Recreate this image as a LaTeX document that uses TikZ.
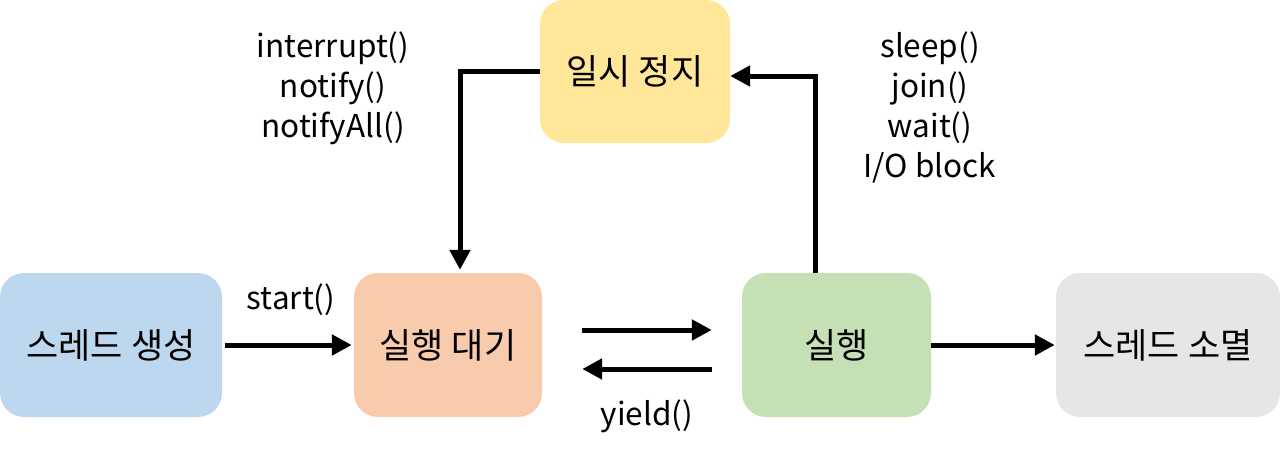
\documentclass[tikz,border=0pt]{standalone}
\usepackage{fontspec}
\setmainfont{Noto Sans CJK KR}
\usetikzlibrary{arrows.meta}
\definecolor{cblue}{HTML}{BDD7EE}
\definecolor{corange}{HTML}{F8CBAD}
\definecolor{cyellow}{HTML}{FFE699}
\definecolor{cgreen}{HTML}{C5E0B4}
\definecolor{cgray}{HTML}{E6E6E6}
\tikzset{
  statebox/.style={draw=none, rounded corners=24pt, minimum height=144pt, inner sep=0pt,
    font=\fontsize{35}{40}\selectfont},
  arr/.style={line width=5pt, -{Triangle[length=20pt,width=20pt]}},
  lbl/.style={align=center, inner sep=0pt, font=\fontsize{31.5}{40}\selectfont}
}
\begin{document}
\begin{tikzpicture}[x=1pt,y=-1pt]
\useasboundingbox (0,0) rectangle (1280,455);
\node[statebox, fill=cblue, minimum width=222pt] (create) at (111,345) {스레드 생성};
\node[statebox, fill=corange, minimum width=188pt] (ready) at (448,345) {실행 대기};
\node[statebox, fill=cyellow, minimum width=190pt, minimum height=143pt] (paused) at (635,71.5) {일시 정지};
\node[statebox, fill=cgreen, minimum width=189pt] (run) at (836.5,345) {실행};
\node[statebox, fill=cgray, minimum width=224pt] (dead) at (1168,345) {스레드 소멸};

\draw[arr, shorten <=3pt, shorten >=2pt] (create.east) -- (ready.west);
\draw[arr, shorten <=40pt, shorten >=30pt] ([yshift=15pt]ready.east) -- ([yshift=15pt]run.west);
\draw[arr, shorten <=30pt, shorten >=40pt] ([yshift=-24pt]run.west) -- ([yshift=-24pt]ready.east);
\draw[arr, shorten >=1pt] (run.east) -- (dead.west);
\draw[arr] ([xshift=-21.5pt]run.north) |- ([yshift=-4.5pt]paused.east);
\draw[arr, shorten >=3pt] (paused.west) -| ([xshift=12pt]ready.north);

\node[lbl] (lstart) at (291,300) {start()};
\node[lbl] (lyield) at (647,416) {yield()};
\node[lbl] (lnotify) at (333,88) {interrupt()\\notify()\\notifyAll()};
\node[lbl] (lsleep) at (930,107) {sleep()\\join()\\wait()\\I/O block};
\end{tikzpicture}
\end{document}
